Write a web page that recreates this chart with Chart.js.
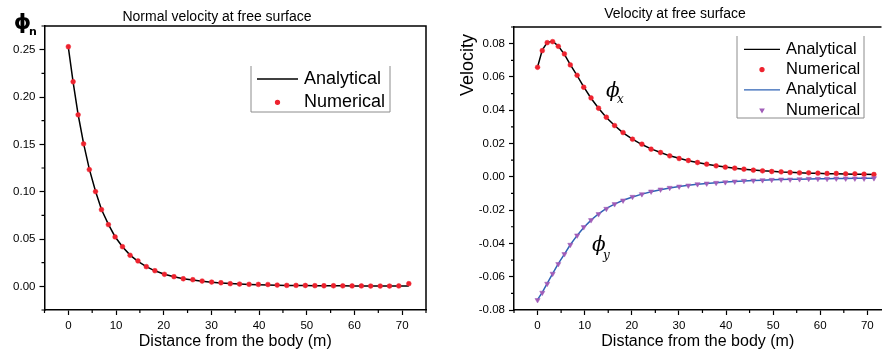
<!DOCTYPE html>
<html>
<head>
<meta charset="utf-8">
<title>Velocity at free surface</title>
<script src="https://cdn.jsdelivr.net/npm/chart.js@4.4.1/dist/chart.umd.min.js"></script>
<style>
    html, body { margin: 0; padding: 0; background: #fff; overflow: hidden; }
    #wrap { position: relative; width: 886px; height: 353px; }
    .panel { position: absolute; top: 0; width: 443px; height: 353px; }
    #leftPanel { left: 0; }
    #rightPanel { left: 443px; }
</style>
</head>
<body>
<div id="wrap">
    <div class="panel" id="leftPanel"><canvas id="normalChart"></canvas></div>
    <div class="panel" id="rightPanel"><canvas id="velocityChart"></canvas></div>
</div>
<script>
// Free surface velocity: analytical vs numerical (two panels)

// Distance from the body (m) of each sample, shared by every series
const distance = [0, 1.0, 2.05, 3.2, 4.4, 5.7, 6.95, 8.4, 9.8, 11.35,
    12.95, 14.6, 16.35, 18.15, 20.15, 22.15, 24.1, 26.1, 28.05, 30.05,
    32.0, 33.95, 35.9, 37.9, 39.85, 41.85, 43.8, 45.8, 47.75, 49.7,
    51.7, 53.6, 55.6, 57.55, 59.5, 61.45, 63.4, 65.4, 67.35, 69.3, 71.4];

// Tick labels
const xTicks = [0, 10, 20, 30, 40, 50, 60, 70];
const xMinorTicks = [-5, 5, 15, 25, 35, 45, 55, 65, 75];
const normalTicks = [0, 0.05, 0.10, 0.15, 0.20, 0.25];
const normalMinorTicks = [-0.025, 0.025, 0.075, 0.125, 0.175, 0.225, 0.275];
const velocityTicks = [-0.08, -0.06, -0.04, -0.02, 0, 0.02, 0.04, 0.06, 0.08];
const velocityMinorTicks = [-0.07, -0.05, -0.03, -0.01, 0.01, 0.03, 0.05, 0.07, 0.09];

// Normal velocity (phi_n)
const normalAnalytical = [0.2525, 0.2158, 0.1815, 0.1508, 0.1238, 0.1004, 0.0812, 0.0654, 0.0524, 0.0418,
    0.0330, 0.0264, 0.0208, 0.0164, 0.0128, 0.0101, 0.0080, 0.0066, 0.0053, 0.0043,
    0.0035, 0.0029, 0.0024, 0.0020, 0.0017, 0.0014, 0.0012, 0.0010, 0.0009, 0.0008,
    0.0007, 0.0006, 0.0005, 0.0005, 0.0004, 0.0004, 0.0003, 0.0003, 0.0003, 0.0003, 0.0003];
const normalNumerical = [0.2531, 0.2161, 0.1812, 0.1505, 0.1233, 0.1001, 0.0810, 0.0652, 0.0522, 0.0419,
    0.0328, 0.0268, 0.0208, 0.0165, 0.0127, 0.0102, 0.0080, 0.0070, 0.0056, 0.0045,
    0.0038, 0.0028, 0.0024, 0.0021, 0.0020, 0.0019, 0.0013, 0.0010, 0.0010, 0.0009,
    0.0007, 0.0006, 0.0006, 0.0005, 0.0004, 0.0004, 0.0003, 0.0003, 0.0003, 0.0004, 0.0028];

// Horizontal velocity (phi_x)
const phiXAnalytical = [0.0660, 0.0762, 0.0808, 0.0814, 0.0786, 0.0736, 0.0674, 0.0608, 0.0540, 0.0472,
    0.0412, 0.0356, 0.0308, 0.0264, 0.0226, 0.0194, 0.0168, 0.0146, 0.0126, 0.0111,
    0.0097, 0.0086, 0.0076, 0.0067, 0.0059, 0.0052, 0.0046, 0.0041, 0.0036, 0.0033,
    0.0029, 0.0027, 0.0024, 0.0022, 0.0021, 0.0019, 0.0018, 0.0017, 0.0016, 0.0015, 0.0014];
const phiXNumerical = [0.0658, 0.0758, 0.0806, 0.0812, 0.0784, 0.0738, 0.0672, 0.0610, 0.0538, 0.0474,
    0.0412, 0.0358, 0.0308, 0.0266, 0.0226, 0.0196, 0.0166, 0.0146, 0.0126, 0.0110,
    0.0098, 0.0086, 0.0076, 0.0066, 0.0058, 0.0052, 0.0046, 0.0040, 0.0036, 0.0032,
    0.0030, 0.0026, 0.0024, 0.0024, 0.0022, 0.0020, 0.0020, 0.0018, 0.0018, 0.0016, 0.0014];

// Vertical velocity (phi_y)
const phiYAnalytical = [-0.0738, -0.0694, -0.0640, -0.0582, -0.0522, -0.0464, -0.0408, -0.0352, -0.0304, -0.0260,
    -0.0222, -0.0190, -0.0164, -0.0141, -0.0121, -0.0104, -0.0090, -0.0078, -0.0067, -0.0058,
    -0.0051, -0.0045, -0.0040, -0.0035, -0.0031, -0.0028, -0.0025, -0.0022, -0.0020, -0.0018,
    -0.0016, -0.0015, -0.0014, -0.0013, -0.0012, -0.0011, -0.0010, -0.0010, -0.0009, -0.0009, -0.0008];
const phiYNumerical = [-0.0740, -0.0696, -0.0642, -0.0582, -0.0524, -0.0464, -0.0408, -0.0352, -0.0302, -0.0260,
    -0.0224, -0.0192, -0.0164, -0.0142, -0.0120, -0.0104, -0.0088, -0.0076, -0.0066, -0.0058,
    -0.0052, -0.0044, -0.0040, -0.0036, -0.0032, -0.0028, -0.0024, -0.0022, -0.0020, -0.0018,
    -0.0016, -0.0016, -0.0014, -0.0012, -0.0012, -0.0012, -0.0010, -0.0010, -0.0010, -0.0010, -0.0008];

const SANS = '"Liberation Sans", Arial, sans-serif';
const RED = 'rgb(238, 34, 46)';
const BLUE = '#2f63b5';
const PURPLE = '#a05cb8';

const pairs = ys => distance.map((x, i) => ({ x: x, y: ys[i] }));

/**
 * Top/right frame lines, minor ticks and free text labels
 */
const axisExtras = {
    id: 'axisExtras',
    afterDraw(chart, args, opts) {
        const { ctx, chartArea: a, scales } = chart;
        ctx.save();
        ctx.strokeStyle = '#000';
        ctx.lineWidth = 1.5;
        ctx.beginPath();
        ctx.moveTo(a.left, a.top);
        ctx.lineTo(a.right, a.top);
        if (opts.rightEdge) {
            ctx.lineTo(a.right, a.bottom);
        }
        ctx.stroke();

        // minor ticks
        ctx.lineWidth = 1.2;
        ctx.beginPath();
        opts.xMinor.forEach(v => {
            const px = scales.x.getPixelForValue(v);
            if (px < a.left - 0.5 || px > a.right + 0.5) return;
            ctx.moveTo(px, a.bottom);
            ctx.lineTo(px, a.bottom + 3);
        });
        opts.yMinor.forEach(v => {
            const py = scales.y.getPixelForValue(v);
            if (py < a.top - 0.5 || py > a.bottom + 0.5) return;
            ctx.moveTo(a.left, py);
            ctx.lineTo(a.left - 3, py);
        });
        ctx.stroke();

        // text labels
        ctx.fillStyle = '#000';
        (opts.texts || []).forEach(t => {
            ctx.save();
            ctx.font = t.font;
            ctx.textAlign = t.align || 'left';
            ctx.textBaseline = t.baseline || 'alphabetic';
            ctx.translate(t.x, t.y);
            if (t.rotate) ctx.rotate(t.rotate);
            ctx.fillText(t.text, 0, 0);
            ctx.restore();
        });
        ctx.restore();
    }
};

/**
 * Legend drawn inside the plot in a thin open box
 */
const boxLegend = {
    id: 'boxLegend',
    afterDraw(chart, args, opts) {
        const ctx = chart.ctx;
        ctx.save();
        ctx.strokeStyle = '#8c8c8c';
        ctx.lineWidth = 1;
        ctx.beginPath();
        ctx.moveTo(opts.left, opts.top);
        ctx.lineTo(opts.left, opts.bottom);
        ctx.lineTo(opts.right, opts.bottom);
        ctx.lineTo(opts.right, opts.top);
        ctx.stroke();

        ctx.font = `${opts.fontSize}px ${SANS}`;
        ctx.textBaseline = 'middle';
        chart.data.datasets.forEach((ds, i) => {
            const y = opts.firstRow + i * opts.rowGap;
            if (ds.showLine) {
                ctx.strokeStyle = ds.borderColor;
                ctx.lineWidth = 1.3;
                ctx.beginPath();
                ctx.moveTo(opts.sampleFrom, y);
                ctx.lineTo(opts.sampleTo, y);
                ctx.stroke();
            } else {
                ctx.fillStyle = ds.pointBackgroundColor;
                ctx.strokeStyle = ds.pointBackgroundColor;
                Chart.helpers.drawPoint(ctx, {
                    pointStyle: ds.pointStyle || 'circle',
                    radius: opts.markerRadius,
                    rotation: ds.pointRotation || 0,
                    borderWidth: 0.5
                }, (opts.sampleFrom + opts.sampleTo) / 2, y);
            }
            ctx.fillStyle = '#000';
            ctx.fillText(ds.label, opts.textX, y);
        });
        ctx.restore();
    }
};

function xAxis(min, max) {
    return {
        type: 'linear',
        min: min,
        max: max,
        afterBuildTicks: scale => { scale.ticks = xTicks.map(v => ({ value: v })); },
        afterFit: scale => { scale.height = 43; },
        ticks: {
            padding: 4,
            maxRotation: 0,
            color: '#000',
            font: { family: SANS, size: 11.5 },
            callback: v => String(v)
        },
        grid: { drawOnChartArea: false, tickLength: 5, tickColor: '#000', tickWidth: 1.2 },
        border: { color: '#000', width: 1.5 },
        title: {
            display: true,
            text: 'Distance from the body (m)',
            color: '#000',
            font: { family: SANS, size: 16 },
            padding: { top: 0, bottom: 1.5 }
        }
    };
}

function yAxis(min, max, tickValues, width) {
    return {
        type: 'linear',
        min: min,
        max: max,
        afterBuildTicks: scale => { scale.ticks = tickValues.map(v => ({ value: v })); },
        afterFit: scale => { scale.width = width; },
        ticks: {
            padding: 4,
            color: '#000',
            font: { family: SANS, size: 11.5 },
            callback: v => v.toFixed(2)
        },
        grid: { drawOnChartArea: false, tickLength: 5, tickColor: '#000', tickWidth: 1.2 },
        border: { color: '#000', width: 1.5 }
    };
}

const commonOptions = {
    responsive: true,
    maintainAspectRatio: false,
    animation: false,
    events: []
};

// Left panel: normal velocity
new Chart(document.getElementById('normalChart'), {
    type: 'scatter',
    data: {
        datasets: [{
            label: 'Analytical',
            data: pairs(normalAnalytical),
            showLine: true,
            borderColor: '#000',
            borderWidth: 1.5,
            pointRadius: 0,
            order: 2
        }, {
            label: 'Numerical',
            data: pairs(normalNumerical),
            showLine: false,
            pointRadius: 2.4,
            pointBackgroundColor: RED,
            pointBorderColor: RED,
            pointBorderWidth: 0.5,
            order: 1
        }]
    },
    options: {
        ...commonOptions,
        layout: { padding: { left: 0, top: 26, right: 17, bottom: 0 } },
        scales: {
            x: xAxis(-5, 75),
            y: yAxis(-0.025, 0.275, normalTicks, 44.5)
        },
        plugins: {
            legend: { display: false },
            tooltip: { enabled: false },
            axisExtras: {
                rightEdge: true,
                xMinor: xMinorTicks,
                yMinor: normalMinorTicks,
                texts: [
                    { text: 'Normal velocity at free surface', x: 217, y: 17, align: 'center', baseline: 'middle', font: `14px ${SANS}` },
                    { text: 'ϕ', x: 22.5, y: 29, align: 'center', font: 'bold 22px "DejaVu Sans", sans-serif' },
                    { text: 'n', x: 29, y: 35, font: 'bold 11px "DejaVu Sans", sans-serif' }
                ]
            },
            boxLegend: {
                left: 251, right: 390, top: 66, bottom: 112,
                firstRow: 79, rowGap: 23.3,
                sampleFrom: 257, sampleTo: 298, textX: 304,
                fontSize: 18, markerRadius: 2
            }
        }
    },
    plugins: [axisExtras, boxLegend]
});

// Right panel: velocity components
new Chart(document.getElementById('velocityChart'), {
    type: 'scatter',
    data: {
        datasets: [{
            label: 'Analytical',
            data: pairs(phiXAnalytical),
            showLine: true,
            borderColor: '#000',
            borderWidth: 1.5,
            pointRadius: 0,
            order: 4
        }, {
            label: 'Numerical',
            data: pairs(phiXNumerical),
            showLine: false,
            pointRadius: 2.4,
            pointBackgroundColor: RED,
            pointBorderColor: RED,
            pointBorderWidth: 0.5,
            order: 2
        }, {
            label: 'Analytical',
            data: pairs(phiYAnalytical),
            showLine: true,
            borderColor: BLUE,
            borderWidth: 1.5,
            pointRadius: 0,
            order: 3
        }, {
            label: 'Numerical',
            data: pairs(phiYNumerical),
            showLine: false,
            pointStyle: 'triangle',
            pointRotation: 180,
            pointRadius: 3,
            pointBackgroundColor: PURPLE,
            pointBorderColor: PURPLE,
            pointBorderWidth: 0.5,
            order: 1
        }]
    },
    options: {
        ...commonOptions,
        layout: { padding: { left: 0, top: 27, right: 0, bottom: 0 } },
        scales: {
            x: xAxis(-5, 73),
            y: yAxis(-0.08, 0.09, velocityTicks, 71)
        },
        plugins: {
            legend: { display: false },
            tooltip: { enabled: false },
            axisExtras: {
                rightEdge: false,
                xMinor: xMinorTicks,
                yMinor: velocityMinorTicks,
                texts: [
                    { text: 'Velocity at free surface', x: 232, y: 14, align: 'center', baseline: 'middle', font: `14px ${SANS}` },
                    { text: 'Velocity', x: 30, y: 65, align: 'center', rotate: -Math.PI / 2, font: `18px ${SANS}` },
                    { text: 'ϕ', x: 163, y: 97, font: 'italic 20px "DejaVu Serif", serif' },
                    { text: 'x', x: 174, y: 103, font: 'italic 12px "DejaVu Serif", serif' },
                    { text: 'ϕ', x: 149, y: 251, font: 'italic 20px "DejaVu Serif", serif' },
                    { text: 'y', x: 160, y: 259, font: 'italic 12px "DejaVu Serif", serif' }
                ]
            },
            boxLegend: {
                left: 294, right: 421, top: 36, bottom: 118,
                firstRow: 49.3, rowGap: 20.3,
                sampleFrom: 301, sampleTo: 337, textX: 343,
                fontSize: 16.5, markerRadius: 2
            }
        }
    },
    plugins: [axisExtras, boxLegend]
});
</script>
</body>
</html>
